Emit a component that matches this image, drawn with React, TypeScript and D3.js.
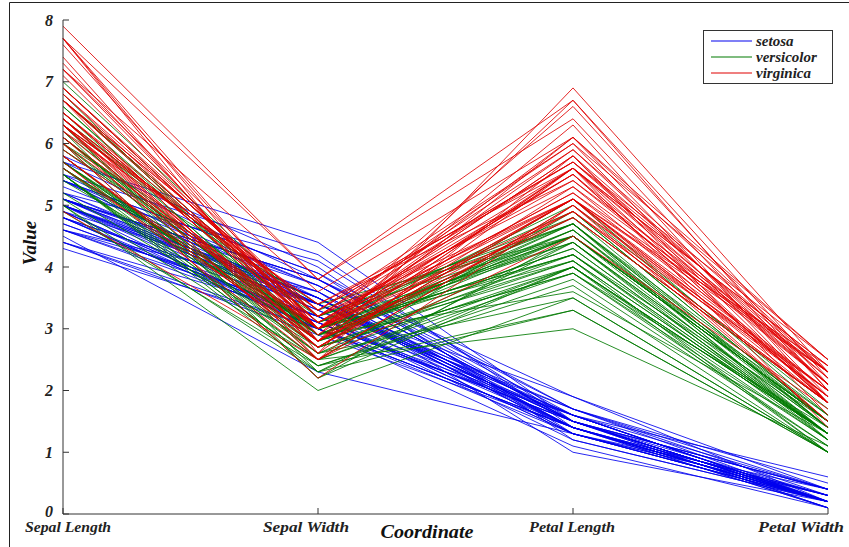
import React from "react";
import * as d3 from "d3";

// Parallel coordinates of Fisher's iris measurements (cm)
const coordinates = ["Sepal Length", "Sepal Width", "Petal Length", "Petal Width"];
const yTicks = [0, 1, 2, 3, 4, 5, 6, 7, 8];
const speciesNames = ["setosa", "versicolor", "virginica"];
const speciesColors = ["#0000ee", "#007a00", "#e00000"];

const setosa: number[][] = [
  [5.1, 3.5, 1.4, 0.2], [4.9, 3.0, 1.4, 0.2], [4.7, 3.2, 1.3, 0.2], [4.6, 3.1, 1.5, 0.2],
  [5.0, 3.6, 1.4, 0.2], [5.4, 3.9, 1.7, 0.4], [4.6, 3.4, 1.4, 0.3], [5.0, 3.4, 1.5, 0.2],
  [4.4, 2.9, 1.4, 0.2], [4.9, 3.1, 1.5, 0.1], [5.4, 3.7, 1.5, 0.2], [4.8, 3.4, 1.6, 0.2],
  [4.8, 3.0, 1.4, 0.1], [4.3, 3.0, 1.1, 0.1], [5.8, 4.0, 1.2, 0.2], [5.7, 4.4, 1.5, 0.4],
  [5.4, 3.9, 1.3, 0.4], [5.1, 3.5, 1.4, 0.3], [5.7, 3.8, 1.7, 0.3], [5.1, 3.8, 1.5, 0.3],
  [5.4, 3.4, 1.7, 0.2], [5.1, 3.7, 1.5, 0.4], [4.6, 3.6, 1.0, 0.2], [5.1, 3.3, 1.7, 0.5],
  [4.8, 3.4, 1.9, 0.2], [5.0, 3.0, 1.6, 0.2], [5.0, 3.4, 1.6, 0.4], [5.2, 3.5, 1.5, 0.2],
  [5.2, 3.4, 1.4, 0.2], [4.7, 3.2, 1.6, 0.2], [4.8, 3.1, 1.6, 0.2], [5.4, 3.4, 1.5, 0.4],
  [5.2, 4.1, 1.5, 0.1], [5.5, 4.2, 1.4, 0.2], [4.9, 3.1, 1.5, 0.2], [5.0, 3.2, 1.2, 0.2],
  [5.5, 3.5, 1.3, 0.2], [4.9, 3.6, 1.4, 0.1], [4.4, 3.0, 1.3, 0.2], [5.1, 3.4, 1.5, 0.2],
  [5.0, 3.5, 1.3, 0.3], [4.5, 2.3, 1.3, 0.3], [4.4, 3.2, 1.3, 0.2], [5.0, 3.5, 1.6, 0.6],
  [5.1, 3.8, 1.9, 0.4], [4.8, 3.0, 1.4, 0.3], [5.1, 3.8, 1.6, 0.2], [4.6, 3.2, 1.4, 0.2],
  [5.3, 3.7, 1.5, 0.2], [5.0, 3.3, 1.4, 0.2],
];

const versicolor: number[][] = [
  [7.0, 3.2, 4.7, 1.4], [6.4, 3.2, 4.5, 1.5], [6.9, 3.1, 4.9, 1.5], [5.5, 2.3, 4.0, 1.3],
  [6.5, 2.8, 4.6, 1.5], [5.7, 2.8, 4.5, 1.3], [6.3, 3.3, 4.7, 1.6], [4.9, 2.4, 3.3, 1.0],
  [6.6, 2.9, 4.6, 1.3], [5.2, 2.7, 3.9, 1.4], [5.0, 2.0, 3.5, 1.0], [5.9, 3.0, 4.2, 1.5],
  [6.0, 2.2, 4.0, 1.0], [6.1, 2.9, 4.7, 1.4], [5.6, 2.9, 3.6, 1.3], [6.7, 3.1, 4.4, 1.4],
  [5.6, 3.0, 4.5, 1.5], [5.8, 2.7, 4.1, 1.0], [6.2, 2.2, 4.5, 1.5], [5.6, 2.5, 3.9, 1.1],
  [5.9, 3.2, 4.8, 1.8], [6.1, 2.8, 4.0, 1.3], [6.3, 2.5, 4.9, 1.5], [6.1, 2.8, 4.7, 1.2],
  [6.4, 2.9, 4.3, 1.3], [6.6, 3.0, 4.4, 1.4], [6.8, 2.8, 4.8, 1.4], [6.7, 3.0, 5.0, 1.7],
  [6.0, 2.9, 4.5, 1.5], [5.7, 2.6, 3.5, 1.0], [5.5, 2.4, 3.8, 1.1], [5.5, 2.4, 3.7, 1.0],
  [5.8, 2.7, 3.9, 1.2], [6.0, 2.7, 5.1, 1.6], [5.4, 3.0, 4.5, 1.5], [6.0, 3.4, 4.5, 1.6],
  [6.7, 3.1, 4.7, 1.5], [6.3, 2.3, 4.4, 1.3], [5.6, 3.0, 4.1, 1.3], [5.5, 2.5, 4.0, 1.3],
  [5.5, 2.6, 4.4, 1.2], [6.1, 3.0, 4.6, 1.4], [5.8, 2.6, 4.0, 1.2], [5.0, 2.3, 3.3, 1.0],
  [5.6, 2.7, 4.2, 1.3], [5.7, 3.0, 4.2, 1.2], [5.7, 2.9, 4.2, 1.3], [6.2, 2.9, 4.3, 1.3],
  [5.1, 2.5, 3.0, 1.1], [5.7, 2.8, 4.1, 1.3],
];

const virginica: number[][] = [
  [6.3, 3.3, 6.0, 2.5], [5.8, 2.7, 5.1, 1.9], [7.1, 3.0, 5.9, 2.1], [6.3, 2.9, 5.6, 1.8],
  [6.5, 3.0, 5.8, 2.2], [7.6, 3.0, 6.6, 2.1], [4.9, 2.5, 4.5, 1.7], [7.3, 2.9, 6.3, 1.8],
  [6.7, 2.5, 5.8, 1.8], [7.2, 3.6, 6.1, 2.5], [6.5, 3.2, 5.1, 2.0], [6.4, 2.7, 5.3, 1.9],
  [6.8, 3.0, 5.5, 2.1], [5.7, 2.5, 5.0, 2.0], [5.8, 2.8, 5.1, 2.4], [6.4, 3.2, 5.3, 2.3],
  [6.5, 3.0, 5.5, 1.8], [7.7, 3.8, 6.7, 2.2], [7.7, 2.6, 6.9, 2.3], [6.0, 2.2, 5.0, 1.5],
  [6.9, 3.2, 5.7, 2.3], [5.6, 2.8, 4.9, 2.0], [7.7, 2.8, 6.7, 2.0], [6.3, 2.7, 4.9, 1.8],
  [6.7, 3.3, 5.7, 2.1], [7.2, 3.2, 6.0, 1.8], [6.2, 2.8, 4.8, 1.8], [6.1, 3.0, 4.9, 1.8],
  [6.4, 2.8, 5.6, 2.1], [7.2, 3.0, 5.8, 1.6], [7.4, 2.8, 6.1, 1.9], [7.9, 3.8, 6.4, 2.0],
  [6.4, 2.8, 5.6, 2.2], [6.3, 2.8, 5.1, 1.5], [6.1, 2.6, 5.6, 1.4], [7.7, 3.0, 6.1, 2.3],
  [6.3, 3.4, 5.6, 2.4], [6.4, 3.1, 5.5, 1.8], [6.0, 3.0, 4.8, 1.8], [6.9, 3.1, 5.4, 2.1],
  [6.7, 3.1, 5.6, 2.4], [6.9, 3.1, 5.1, 2.3], [5.8, 2.7, 5.1, 1.9], [6.8, 3.2, 5.9, 2.3],
  [6.7, 3.3, 5.7, 2.5], [6.7, 3.0, 5.2, 2.3], [6.3, 2.5, 5.0, 1.9], [6.5, 3.0, 5.2, 2.0],
  [6.2, 3.4, 5.4, 2.3], [5.9, 3.0, 5.1, 1.8],
];

const groups = [setosa, versicolor, virginica];

const W = 849;
const H = 547;
const font = "'Liberation Serif', 'DejaVu Serif', serif";

// label anchor offsets from each coordinate's axis position (keeps the last one inside the frame)
const labelShift = [5, -12, -1, -27];

export default function App() {
  const x = d3.scalePoint<string>().domain(coordinates).range([63, 828]);
  const y = d3.scaleLinear().domain([0, 8]).range([514, 20]);
  const line = d3
    .line<number>()
    .x((_, i) => x(coordinates[i]) as number)
    .y((v) => y(v));

  const legendX = 703;
  const legendY = 30;

  return (
    <svg
      width={W}
      height={H}
      style={{ position: "absolute", left: 0, top: 0, background: "#fff" }}
      fontFamily={font}
    >
      {/* outer frame */}
      <line x1={9.5} y1={2.5} x2={W} y2={2.5} stroke="#222" strokeWidth={1} />
      <line x1={9.5} y1={2.5} x2={9.5} y2={H} stroke="#222" strokeWidth={1} />

      {/* profiles, one polyline per flower */}
      {groups.map((rows, gi) => (
        <g key={speciesNames[gi]} stroke={speciesColors[gi]} strokeWidth={0.85} fill="none">
          {rows.map((r, ri) => (
            <path key={ri} d={line(r) || ""} />
          ))}
        </g>
      ))}

      {/* y axis */}
      <line x1={63} y1={y(8)} x2={63} y2={y(0)} stroke="#333" strokeWidth={1} />
      {yTicks.map((t) => (
        <g key={t}>
          <line x1={63} x2={69} y1={y(t)} y2={y(t)} stroke="#333" strokeWidth={1} />
          <text
            x={53}
            y={t === 0 ? y(t) - 3 : y(t)}
            dy="0.35em"
            textAnchor="end"
            fontSize={16}
            fontWeight="bold"
            fontStyle="italic"
            fill="#222"
          >
            {t}
          </text>
        </g>
      ))}

      {/* x axis */}
      <line x1={63} y1={y(0)} x2={828} y2={y(0)} stroke="#333" strokeWidth={1} />
      {coordinates.map((c, i) => (
        <g key={c}>
          <line
            x1={x(c)}
            x2={x(c)}
            y1={y(0)}
            y2={y(0) - 6}
            stroke="#333"
            strokeWidth={1}
          />
          <text
            x={(x(c) as number) + labelShift[i]}
            y={532}
            textAnchor="middle"
            fontSize={15.5}
            fontWeight="bold"
            fontStyle="italic"
            fill="#222"
            textLength={86}
            lengthAdjust="spacingAndGlyphs"
          >
            {c}
          </text>
        </g>
      ))}

      {/* axis titles */}
      <text
        x={427}
        y={538}
        textAnchor="middle"
        fontSize={19}
        fontWeight="bold"
        fontStyle="italic"
        fill="#111"
        textLength={93}
        lengthAdjust="spacingAndGlyphs"
      >
        Coordinate
      </text>
      <text
        transform="translate(36,243) rotate(-90)"
        textAnchor="middle"
        fontSize={19}
        fontWeight="bold"
        fontStyle="italic"
        fill="#111"
      >
        Value
      </text>

      {/* legend */}
      <rect
        x={legendX + 0.5}
        y={legendY + 0.5}
        width={129}
        height={53}
        fill="#fff"
        stroke="#333"
        strokeWidth={1}
      />
      {speciesNames.map((s, i) => (
        <g key={s}>
          <line
            x1={legendX + 8}
            x2={legendX + 49}
            y1={legendY + 11 + i * 16}
            y2={legendY + 11 + i * 16}
            stroke={speciesColors[i]}
            strokeWidth={1.2}
          />
          <text
            x={legendX + 53}
            y={legendY + 11 + i * 16}
            dy="0.32em"
            fontSize={15}
            fontWeight="bold"
            fontStyle="italic"
            fill="#222"
          >
            {s}
          </text>
        </g>
      ))}
    </svg>
  );
}
